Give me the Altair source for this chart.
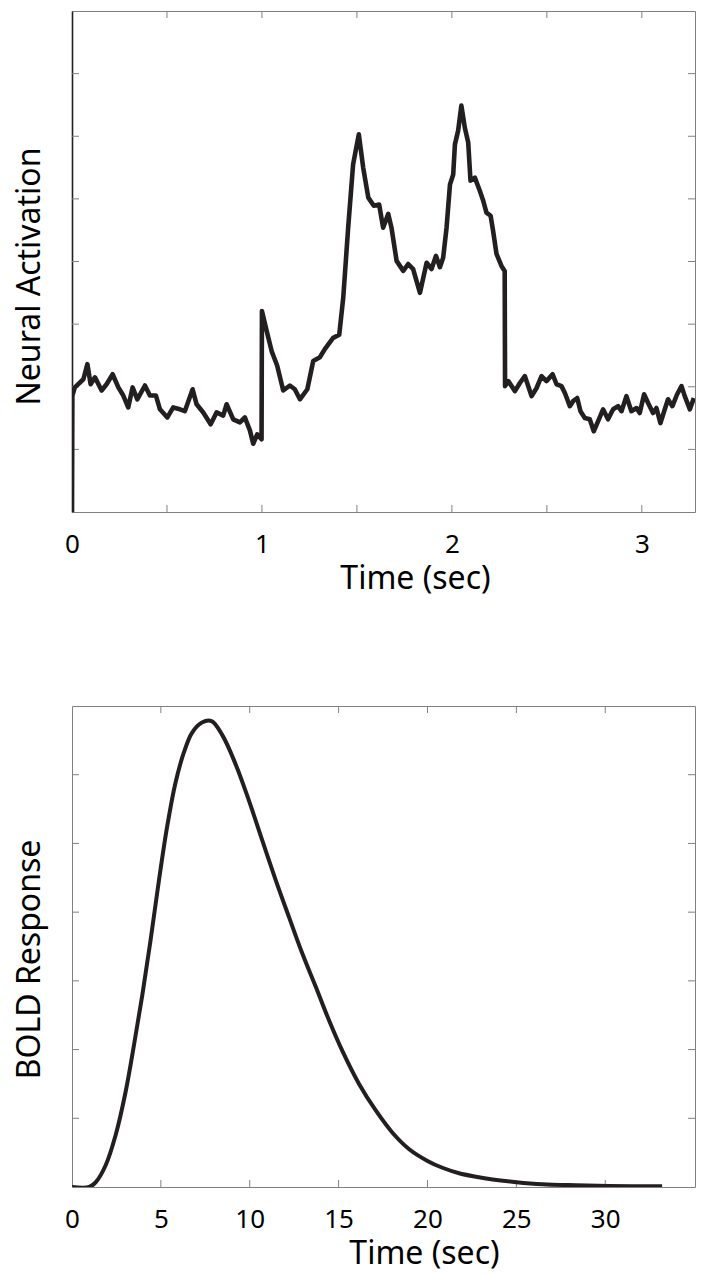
import altair as alt
import pandas as pd

# ---- Top panel: neural activation trace ----
neural_t = [0.000, 0.002, 0.015, 0.060, 0.081, 0.098, 0.121, 0.156, 0.182, 0.214,
            0.244, 0.270, 0.296, 0.319, 0.344, 0.384, 0.410, 0.442, 0.463, 0.502,
            0.533, 0.568, 0.594, 0.635, 0.656, 0.691, 0.730, 0.761, 0.796, 0.814,
            0.849, 0.884, 0.910, 0.937, 0.954, 0.975, 0.998, 1.000, 1.025, 1.051,
            1.080, 1.112, 1.147, 1.173, 1.200, 1.239, 1.270, 1.305, 1.331, 1.375,
            1.407, 1.428, 1.454, 1.480, 1.510, 1.533, 1.560, 1.589, 1.617, 1.638,
            1.665, 1.682, 1.709, 1.744, 1.770, 1.796, 1.832, 1.867, 1.893, 1.916,
            1.937, 1.954, 1.972, 1.990, 2.007, 2.016, 2.033, 2.050, 2.068, 2.086,
            2.098, 2.121, 2.147, 2.165, 2.182, 2.204, 2.217, 2.235, 2.261, 2.278,
            2.280, 2.297, 2.332, 2.358, 2.384, 2.420, 2.446, 2.472, 2.498, 2.530,
            2.551, 2.577, 2.595, 2.621, 2.638, 2.660, 2.677, 2.700, 2.726, 2.747,
            2.770, 2.796, 2.822, 2.849, 2.875, 2.893, 2.919, 2.945, 2.972, 2.989,
            3.012, 3.033, 3.059, 3.077, 3.098, 3.121, 3.138, 3.161, 3.186, 3.209,
            3.226, 3.253, 3.274]
neural_v = [0.00, 1.86, 1.99, 2.12, 2.36, 2.04, 2.15, 1.94, 2.04, 2.20,
            1.99, 1.86, 1.67, 1.99, 1.80, 2.02, 1.86, 1.86, 1.64, 1.51,
            1.67, 1.64, 1.61, 1.96, 1.72, 1.59, 1.40, 1.59, 1.54, 1.72,
            1.48, 1.43, 1.51, 1.30, 1.09, 1.24, 1.16, 3.21, 2.89, 2.57,
            2.34, 1.94, 2.02, 1.96, 1.80, 1.96, 2.41, 2.47, 2.60, 2.78,
            2.83, 3.42, 4.54, 5.55, 6.03, 5.50, 5.02, 4.89, 4.91, 4.54,
            4.76, 4.54, 4.01, 3.85, 3.96, 3.88, 3.50, 3.98, 3.88, 4.09,
            3.91, 4.06, 4.54, 5.23, 5.39, 5.87, 6.09, 6.49, 6.14, 5.90,
            5.29, 5.34, 5.13, 4.97, 4.78, 4.73, 4.49, 4.12, 3.93, 3.85,
            2.01, 2.09, 1.93, 2.06, 2.17, 1.85, 1.98, 2.17, 2.09, 2.20,
            2.04, 2.01, 1.90, 1.69, 1.77, 1.82, 1.61, 1.50, 1.48, 1.29,
            1.45, 1.64, 1.48, 1.64, 1.69, 1.61, 1.85, 1.61, 1.66, 1.58,
            1.88, 1.74, 1.58, 1.66, 1.42, 1.64, 1.80, 1.69, 1.88, 2.01,
            1.85, 1.64, 1.82]

# ---- Bottom panel: BOLD response curve ----
bold_t = [0.0, 0.97, 1.34, 1.9, 2.46, 3.02, 3.49, 3.96, 4.42, 4.89, 5.35, 5.82,
          6.29, 6.75, 7.31, 7.85, 8.45, 9.21, 9.96, 10.71, 11.47, 12.22, 12.97,
          13.72, 14.47, 15.23, 16.15, 17.1, 18.03, 18.97, 20.0, 20.84, 21.78,
          22.72, 23.66, 25.0, 26.47, 28.35, 30.2, 33.2]
bold_v = [0.0, 0.0, 0.07, 0.32, 0.76, 1.39, 2.07, 2.80, 3.59, 4.46, 5.24, 5.88,
          6.32, 6.61, 6.76, 6.78, 6.58, 6.15, 5.62, 5.04, 4.46, 3.92, 3.39,
          2.91, 2.42, 1.97, 1.50, 1.11, 0.79, 0.55, 0.38, 0.28, 0.20,
          0.15, 0.11, 0.07, 0.04, 0.025, 0.015, 0.01]

# ---- Axis ticks / labels ----
top_x_labels = [0, 1, 2, 3]
top_x_ticks = [0.5, 1, 1.5, 2, 2.5, 3]
top_y_ticks = [1, 2, 3, 4, 5, 6, 7]
bot_x_labels = [0, 5, 10, 15, 20, 25, 30]
bot_x_ticks = [5, 10, 15, 20, 25, 30]
bot_y_ticks = [1, 2, 3, 4, 5, 6]

FONT = "Noto Sans"
INK = "#231f20"
FRAME = "#808080"
TL = 7  # tick length (px)


def panel(t, v, xdom, ydom, xlabels, xticks, yticks, ytitle, W, H,
          stroke_w, interp, left_black, title_x, title_y):
    df = pd.DataFrame({"t": t, "v": v})
    xs = alt.Scale(domain=xdom, nice=False, zero=False)
    ys = alt.Scale(domain=ydom, nice=False, zero=False)
    yaxis = alt.Axis(labels=False, ticks=False, grid=False,
                     domain=left_black, domainColor=INK, domainWidth=1.6,
                     title=ytitle, titleFont=FONT, titleFontSize=32,
                     titleFontWeight="normal", titleColor="black",
                     titlePadding=26, titleY=title_y)
    line = alt.Chart(df).mark_line(color=INK, strokeWidth=stroke_w,
                                   interpolate=interp, clip=True,
                                   strokeJoin="round").encode(
        x=alt.X("t:Q", scale=xs,
                axis=alt.Axis(values=xlabels, format="d", grid=False,
                              domain=False, ticks=False, tickSize=0,
                              labelFont=FONT, labelFontSize=26,
                              labelColor="black", labelPadding=19,
                              labelFlush=False,
                              title="Time (sec)", titleFont=FONT,
                              titleFontSize=32, titleFontWeight="normal",
                              titleColor="black", titlePadding=6,
                              titleX=title_x, titleAlign="center")),
        y=alt.Y("v:Q", scale=ys, axis=yaxis),
    )
    xt = pd.DataFrame({"x": xticks})
    yt = pd.DataFrame({"y": yticks})
    tick_style = dict(color=FRAME, strokeWidth=1)
    bt = alt.Chart(xt).mark_rule(**tick_style).encode(
        x=alt.X("x:Q", scale=xs), y=alt.value(H), y2=alt.value(H - TL))
    tt = alt.Chart(xt).mark_rule(**tick_style).encode(
        x=alt.X("x:Q", scale=xs), y=alt.value(0), y2=alt.value(TL))
    lt = alt.Chart(yt).mark_rule(**tick_style).encode(
        y=alt.Y("y:Q", scale=ys), x=alt.value(0), x2=alt.value(TL))
    rt = alt.Chart(yt).mark_rule(**tick_style).encode(
        y=alt.Y("y:Q", scale=ys), x=alt.value(W - TL), x2=alt.value(W))
    return alt.layer(bt, tt, lt, rt, line).properties(width=W, height=H)


top = panel(neural_t, neural_v, [0, 3.28], [0, 8], top_x_labels, top_x_ticks,
            top_y_ticks, "Neural Activation", 623, 501, 4.6, "linear", True,
            343, 265)
bottom = panel(bold_t, bold_v, [0, 35.05], [0, 7], bot_x_labels, bot_x_ticks,
               bot_y_ticks, "BOLD Response", 623, 481, 4.0, "catmull-rom",
               False, 352, 253)

chart = alt.vconcat(top, bottom, spacing=110).properties(
    padding={"left": 4, "top": 2, "right": 2, "bottom": 2},
    background="white",
).configure_view(stroke=FRAME, strokeWidth=1)

chart.save("out.html", embed_options={"renderer": "svg", "actions": False})
